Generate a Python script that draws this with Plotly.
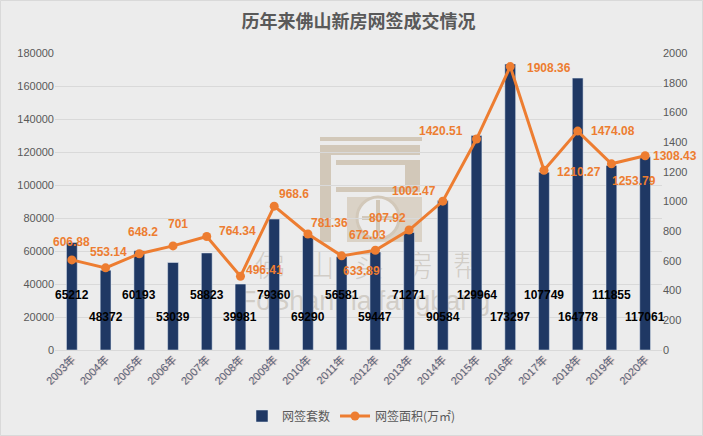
import plotly.graph_objects as go

years = ["2003年", "2004年", "2005年", "2006年", "2007年", "2008年", "2009年", "2010年", "2011年",
         "2012年", "2013年", "2014年", "2015年", "2016年", "2017年", "2018年", "2019年", "2020年"]
units = [65212, 48372, 60193, 53039, 58823, 39981, 79360, 69290, 56581,
         59447, 71271, 90584, 129964, 173297, 107749, 164778, 111855, 117061]
area = [606.88, 553.14, 648.2, 701, 764.34, 496.41, 968.6, 781.36, 633.89,
        672.03, 807.92, 1002.47, 1420.51, 1908.36, 1210.27, 1474.08, 1253.79, 1308.43]
area_labels = ["606.88", "553.14", "648.2", "701", "764.34", "496.41", "968.6", "781.36", "633.89",
               "672.03", "807.92", "1002.47", "1420.51", "1908.36", "1210.27", "1474.08", "1253.79", "1308.43"]

# label offsets (px) for the orange line labels (style only)
line_dx = [0, 3, 4, 5, 31, 24, 20, 22, 20, -8, -22, -29, -36, 39, 35, 35, 23, 30]
line_dy = [18, 16, 22, 22, 6, 6, 12, 11, -15, 15, 12, 10, 8, -1, -2, 0, -17, 0]

BAR = "#1f3864"
ORANGE = "#ed7d31"
GRID = "#d9d9d9"
TXT = "#595959"
BG = "#ececec"
FONT = "Liberation Sans, Noto Sans CJK SC, sans-serif"

W, H = 703, 436
L, R, T, B = 55, 41, 53, 86
PW, PH = W - L - R, H - T - B


def px(x):
    return (x - L) / PW


def py(y):
    return (H - B - y) / PH


fig = go.Figure()
fig.add_trace(go.Bar(x=years, y=units, name="网签套数", marker_color=BAR, yaxis="y"))
fig.add_trace(go.Scatter(x=years, y=area, name="网签面积(万㎡)", mode="lines+markers",
                         line=dict(color=ORANGE, width=3), marker=dict(color=ORANGE, size=9),
                         yaxis="y2"))

ann = []
for i, (yr, v) in enumerate(zip(years, units)):
    ann.append(dict(x=yr, y=0, xref="x", yref="y", text=str(v), showarrow=False,
                    yshift=55 if i % 2 == 0 else 33, yanchor="middle",
                    font=dict(family=FONT, size=12, color="#000000", weight="bold")))
for yr, v, t, dx, dy in zip(years, area, area_labels, line_dx, line_dy):
    ann.append(dict(x=yr, y=v, xref="x", yref="y2", text=t, showarrow=False,
                    xshift=dx, yshift=dy, yanchor="middle",
                    font=dict(family=FONT, size=12, color=ORANGE, weight="bold")))

# watermark (drawn below traces)
WM = "rgb(210,200,185)"
WM2 = "rgb(218,210,198)"
WMT = "rgba(170,160,145,0.42)"
shapes = []


def rect(x0, y0, x1, y1, color=WM):
    shapes.append(dict(type="rect", xref="paper", yref="paper", x0=px(x0), x1=px(x1),
                       y0=py(y1), y1=py(y0), fillcolor=color, line=dict(width=0), layer="below"))


rect(320, 137, 422, 141)
rect(326, 145, 420, 155)
rect(320, 145, 331, 242)
rect(336, 160, 420, 165)
rect(405, 165, 420, 192)
rect(336, 187, 420, 192)
rect(347, 197, 422, 242, WM2)
shapes.append(dict(type="circle", xref="paper", yref="paper", x0=px(357), x1=px(399),
                   y0=py(239), y1=py(197), fillcolor=BG, line=dict(color=WM, width=3), layer="below"))
rect(362, 216, 394, 220)
rect(376, 200, 380, 236)

wm_chars = ["佛", "山", "买", "房", "帮"]
for k, ch in enumerate(wm_chars):
    cx = 270 + k * 49.5
    shapes.append(dict(type="rect", xref="paper", yref="paper", x0=px(cx - 15), x1=px(cx + 15),
                       y0=py(283), y1=py(253), line=dict(width=0), fillcolor="rgba(0,0,0,0)",
                       layer="below",
                       label=dict(text=ch, font=dict(family="Noto Sans CJK SC", size=30, color=WMT,
                                                     weight=300))))
shapes.append(dict(type="rect", xref="paper", yref="paper", x0=px(250), x1=px(480),
                   y0=py(312), y1=py(284), line=dict(width=0), fillcolor="rgba(0,0,0,0)",
                   layer="below",
                   label=dict(text="FoShanmaifangbang", font=dict(family="Liberation Sans", size=27, color=WMT))))

# border
shapes.append(dict(type="rect", xref="paper", yref="paper", x0=px(0.5), x1=px(W - 0.5),
                   y0=py(H - 0.5), y1=py(0.5), line=dict(color=GRID, width=1), layer="above"))

fig.update_layout(
    width=W, height=H,
    margin=dict(l=L, r=R, t=T, b=B, autoexpand=False),
    paper_bgcolor=BG, plot_bgcolor=BG,
    font=dict(family=FONT, color=TXT, size=11),
    title=dict(text="历年来佛山新房网签成交情况", x=0.5, xref="paper", xanchor="center",
               y=1 - 22 / H, yref="container", yanchor="middle",
               font=dict(family="Noto Sans CJK SC, " + FONT, size=18, color=TXT, weight="bold")),
    bargap=0.68,
    showlegend=True,
    legend=dict(orientation="h", x=0.5, xref="container", xanchor="center", y=py(416), yanchor="middle",
                font=dict(family="Noto Sans CJK SC, " + FONT, size=12, color=TXT),
                bgcolor="rgba(0,0,0,0)"),
    xaxis=dict(type="category", range=[-0.5, len(years) - 0.5], autorange=False,
               tickangle=-45, showgrid=False, showline=False, ticks="",
               automargin=False,
               tickfont=dict(family=FONT, size=11, color="#4e5e82",
                             shadow="1px 1px 0px rgba(237,125,49,0.35)")),
    yaxis=dict(range=[0, 180000], dtick=20000, showgrid=True, gridcolor=GRID, zeroline=True,
               zerolinecolor=GRID, zerolinewidth=1, tickfont=dict(size=11, color=TXT), ticks="",
               tickformat="d", automargin=False),
    yaxis2=dict(range=[0, 2000], dtick=200, overlaying="y", side="right", showgrid=False,
                zeroline=False, tickfont=dict(size=11, color=TXT), ticks="", tickformat="d",
                automargin=False),
    annotations=ann,
    shapes=shapes,
)

fig.write_html("out.html", config={"displayModeBar": False},
               post_script="document.body.style.margin='0';")
